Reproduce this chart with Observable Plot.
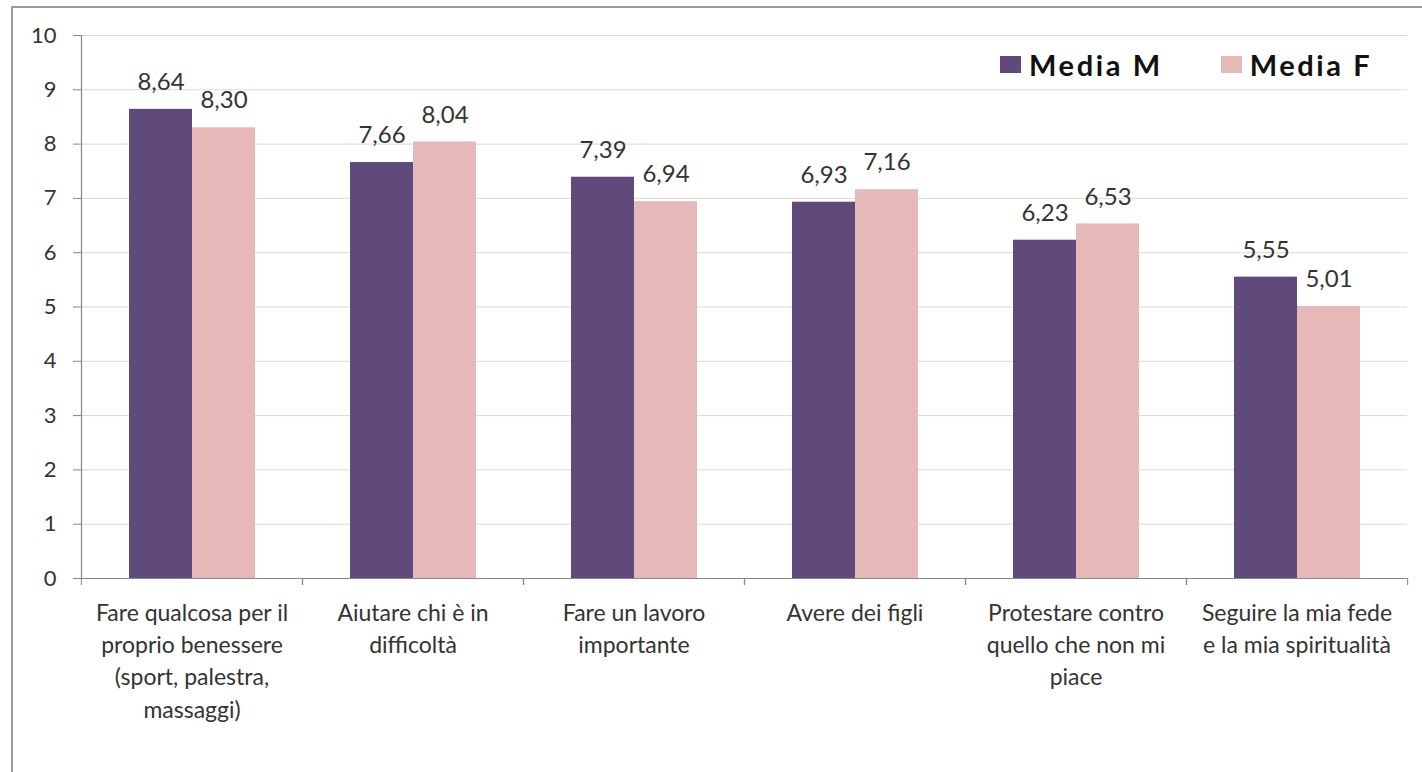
<!DOCTYPE html>
<html>
<head>
<meta charset="utf-8">
<script src="https://cdn.jsdelivr.net/npm/d3@7"></script>
<script src="https://cdn.jsdelivr.net/npm/@observablehq/plot@0.6"></script>
<style>
  body { margin: 0; background: #fff; }
  #wrap { position: relative; width: 1422px; height: 772px; overflow: hidden; font-family: Lato, "Open Sans", sans-serif; }
  #border { position: absolute; left: 11px; top: 6px; right: -10px; bottom: -10px; border-left: 2px solid #9a9a9a; border-top: 2px solid #9a9a9a; pointer-events: none; }
  #chart { position: absolute; left: 0; top: 0; }
  #legend { position: absolute; left: 1000px; top: 47px; width: 420px; display: flex; align-items: center; white-space: nowrap; font-weight: 700; font-size: 29px; letter-spacing: 2.6px; color: #111; }
  #legend .item { display: flex; align-items: center; flex-shrink: 0; margin-right: 58px; white-space: nowrap; }
  #legend .sw { width: 21px; height: 17px; margin-right: 8px; flex-shrink: 0; }
</style>
</head>
<body>
<div id="wrap">
  <div id="chart"></div>
  <div id="border"></div>
  <div id="legend"></div>
</div>
<script>
const categories = [
  "Fare qualcosa per il proprio benessere (sport, palestra, massaggi)",
  "Aiutare chi è in difficoltà",
  "Fare un lavoro importante",
  "Avere dei figli",
  "Protestare contro quello che non mi piace",
  "Seguire la mia fede e la mia spiritualità"
];
const categoryLabels = [
  "Fare qualcosa per il\nproprio benessere\n(sport, palestra,\nmassaggi)",
  "Aiutare chi è in\ndifficoltà",
  "Fare un lavoro\nimportante",
  "Avere dei figli",
  "Protestare contro\nquello che non mi\npiace",
  "Seguire la mia fede\ne la mia spiritualità"
];
const series = ["Media M", "Media F"];
const mediaM = [8.64, 7.66, 7.39, 6.93, 6.23, 5.55];
const mediaF = [8.30, 8.04, 6.94, 7.16, 6.53, 5.01];
const colors = ["#604a7b", "#e6b8b7"];
const yTicks = [0, 1, 2, 3, 4, 5, 6, 7, 8, 9, 10];

const data = categories.flatMap((c, i) => [
  {cat: c, series: series[0], value: mediaM[i]},
  {cat: c, series: series[1], value: mediaF[i]}
]);
const labelOf = new Map(categories.map((c, i) => [c, categoryLabels[i]]));

const W = 1422, H = 772, mL = 80, mR = 14, mT = 35, mB = 194;
const facetW = (W - mL - mR) / categories.length;
const font = "Lato, 'Open Sans', sans-serif";
const axisColor = "#868686";
const textColor = "#333333";

const chart = Plot.plot({
  width: W,
  height: H,
  marginLeft: mL,
  marginRight: mR,
  marginTop: mT,
  marginBottom: mB,
  style: {fontFamily: font, background: "transparent"},
  fx: {domain: categories, padding: 0, axis: null},
  x: {domain: series, paddingInner: 0, paddingOuter: 0.745, axis: null},
  y: {domain: [0, 10], axis: null},
  color: {domain: series, range: colors},
  marks: [
    Plot.gridY(yTicks, {stroke: "#d9d9d9", strokeOpacity: 1}),
    Plot.barY(data, {fx: "cat", x: "series", y: "value", fill: "series"}),
    Plot.text(data, {
      fx: "cat", x: "series", y: "value",
      text: d => d.value.toFixed(2).replace(".", ","),
      dy: -27, fontSize: 24, fill: textColor
    }),
    Plot.ruleY([0], {stroke: axisColor, strokeWidth: 1.2}),
    Plot.frame({anchor: "left", facet: "super", stroke: axisColor, strokeWidth: 1.2}),
    Plot.axisY({
      ticks: yTicks, tickSize: 8, tickPadding: 17, stroke: axisColor,
      fontSize: 22, fill: textColor, label: null, tickFormat: d => String(d)
    }),
    Plot.axisFx({
      anchor: "bottom", tickSize: 0, tickPadding: 19, fontSize: 23, lineHeight: 1.41,
      fill: textColor, label: null, tickFormat: d => labelOf.get(d)
    }),
    Plot.axisFx({
      anchor: "bottom", tickSize: 7, dx: -facetW / 2, stroke: axisColor, label: null, tickFormat: () => ""
    }),
    Plot.axisFx({
      anchor: "bottom", tickSize: 7, dx: facetW / 2, stroke: axisColor, label: null, tickFormat: () => ""
    })
  ]
});
document.getElementById("chart").appendChild(chart);

const legend = document.getElementById("legend");
series.forEach((s, i) => {
  const item = document.createElement("div");
  item.className = "item";
  const sw = document.createElement("div");
  sw.className = "sw";
  sw.style.background = colors[i];
  const t = document.createElement("span");
  t.textContent = s;
  item.appendChild(sw);
  item.appendChild(t);
  legend.appendChild(item);
});
</script>
</body>
</html>
